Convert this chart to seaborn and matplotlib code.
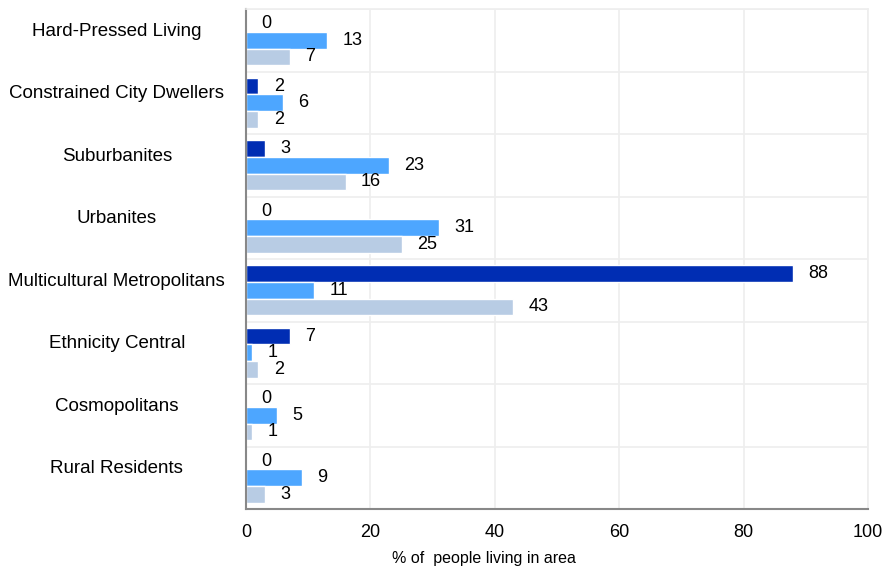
import pandas as pd
import matplotlib.pyplot as plt
import matplotlib.transforms as mtransforms
import seaborn as sns
from matplotlib.ticker import FixedLocator

categories = ["Hard-Pressed Living", "Constrained City Dwellers", "Suburbanites",
              "Urbanites", "Multicultural Metropolitans", "Ethnicity Central",
              "Cosmopolitans", "Rural Residents"]
series_names = ["Series A", "Series B", "Series C"]
series_a = [0, 2, 3, 0, 88, 7, 0, 0]
series_b = [13, 6, 23, 31, 11, 1, 5, 9]
series_c = [7, 2, 16, 25, 43, 2, 1, 3]
colors = ["#002db3", "#4da6ff", "#b8cce4"]
x_ticks = [0, 20, 40, 60, 80, 100]

rows = []
for name, vals in zip(series_names, [series_a, series_b, series_c]):
    for cat, v in zip(categories, vals):
        rows.append({"category": cat, "series": name, "value": v})
df = pd.DataFrame(rows)

sns.set_style("white")
plt.rcParams['font.family'] = ['Liberation Sans', 'DejaVu Sans']
plt.rcParams['text.color'] = 'black'
plt.rcParams['xtick.color'] = 'black'
plt.rcParams['ytick.color'] = 'black'

fig = plt.figure(figsize=(8.96, 5.68), dpi=100)
ax = fig.add_axes([246 / 896, 1 - 509 / 568, 622 / 896, 500 / 568])

sns.barplot(data=df, y="category", x="value", hue="series", order=categories,
            hue_order=series_names, palette=colors, orient="h", width=0.8,
            saturation=1, legend=False, ax=ax)

for cont in ax.containers:
    ax.bar_label(cont, fmt="%d", padding=11, fontsize=13, color="black")

ax.set_xlim(0, 100)
ax.set_ylim(len(categories) - 0.5, -0.5)
ax.set_xticks(x_ticks)
ax.set_xticklabels([str(t) for t in x_ticks], fontsize=13)
ax.set_xlabel("% of  people living in area", fontsize=11.5, color="black")
ax.xaxis.set_label_coords((484 - 246) / 622, -0.085)
ax.set_ylabel("")

# category labels centred in the left margin, a little above the group centre
ax.set_yticks(range(len(categories)))
ax.set_yticklabels(categories, fontsize=13.5, ha="center")
ax.tick_params(axis="y", which="major", length=0, pad=93)
shift = mtransforms.ScaledTranslation(0, 11 / 100, fig.dpi_scale_trans)
for lbl in ax.get_yticklabels():
    lbl.set_transform(lbl.get_transform() + shift)
ax.yaxis.set_minor_locator(FixedLocator([i - 0.5 for i in range(len(categories) + 1)]))
ax.tick_params(axis="y", which="minor", length=5, color="#888888", width=1.2)
ax.tick_params(axis="x", which="major", length=5, color="#888888", width=1.2, pad=6)

ax.grid(True, axis="x", which="major", color="#eeeeee", linewidth=1.2)
ax.grid(True, axis="y", which="minor", color="#eeeeee", linewidth=1.2)
ax.set_axisbelow(True)

for side in ["left", "bottom"]:
    ax.spines[side].set_color("#888888")
    ax.spines[side].set_linewidth(1.5)
for side in ["top", "right"]:
    ax.spines[side].set_color("#eeeeee")
    ax.spines[side].set_linewidth(1.2)

fig.savefig("out.png", dpi=100)
